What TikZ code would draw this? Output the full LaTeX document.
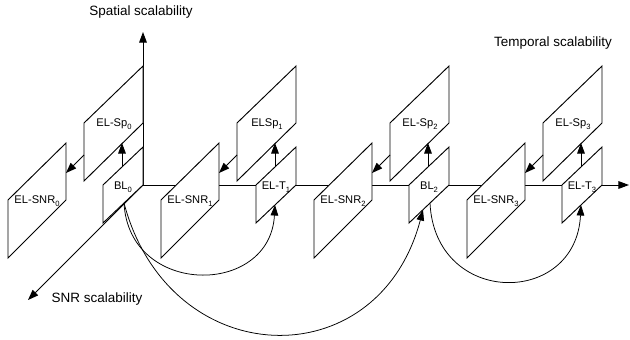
\documentclass[tikz,border=0pt]{standalone}
\usepackage{fontspec}
\setmainfont{Liberation Sans}
\usetikzlibrary{arrows.meta,calc}
\newcommand\lowsub[1]{\raisebox{-0.55ex}{\fontsize{6.5}{7}\selectfont#1}}

\begin{document}
\begin{tikzpicture}[x=0.03cm,y=-0.03cm,>={Triangle[length=9pt,width=6.5pt]},line width=0.8pt,
  layerbox/.style={draw,fill=white,line join=miter},
  lbl/.style={font=\fontsize{9.5}{11}\selectfont,inner sep=0pt},
  axislbl/.style={font=\fontsize{11.5}{13}\selectfont},
  arc/.style={->,line width=0.65pt}]
\useasboundingbox (0,0) rectangle (630,340);
% the three axes
\coordinate (o) at (143,185);
\coordinate (spatial) at (143,32);
\coordinate (temporal) at (629,185);
\coordinate (snr) at (28,300);
\draw[->] (o) -- (spatial);
\draw[->] (o) -- (temporal);
\draw[->] (o) -- (snr);
\node[axislbl] (spatiallbl) at (141,12) {Spatial scalability};
\node[axislbl] (temporallbl) at (553,43) {Temporal scalability};
\node[axislbl] (snrlbl) at (97,299) {SNR scalability};
% one group of layers per time instant
\foreach \k/\base/\sp in {0/BL/EL-Sp,1/EL-T/ELSp,2/BL/EL-Sp,3/EL-T/EL-Sp} {
  \pgfmathsetmacro\ax{143+153*\k}
  \draw[layerbox] (\ax,66) -- (\ax,123) -- (\ax-59,181) -- (\ax-59,123) -- cycle;
  \draw[layerbox] (\ax-77,143) -- (\ax-77,200) -- (\ax-135,258) -- (\ax-135,200) -- cycle;
  \draw[layerbox] (\ax,147) -- (\ax,185) -- (\ax-40,223) -- (\ax-40,185) -- cycle;
  \node[lbl] (sp\k) at (\ax-29,124) {\sp\lowsub{\k}};
  \node[lbl] (snr\k) at (\ax-106,201) {EL-SNR\lowsub{\k}};
  \node[lbl] (lay\k) at (\ax-20,187) {\base\lowsub{\k}};
  \coordinate (up\k) at (\ax-21,167);
  \coordinate (spb\k) at (\ax-21,143);
  \coordinate (spl\k) at (\ax-59,155);
  \coordinate (snrr\k) at (\ax-77,173);
  \coordinate (out\k) at (\ax-19,203);
  \coordinate (in\k) at (\ax-21,205);
  \coordinate (deep\k) at (\ax-26,210);
  \draw[->] (up\k) -- (spb\k);
  \draw[->] (spl\k) -- (snrr\k);
}
% temporal prediction
\draw[arc] (out0) .. controls +(5,94) and +(-5,92) .. (in1);
\draw[arc] (out0) .. controls +(45,170) and +(-45,170) .. (deep2);
\draw[arc] (out2) .. controls +(5,104) and +(-5,102) .. (in3);
\end{tikzpicture}
\end{document}
